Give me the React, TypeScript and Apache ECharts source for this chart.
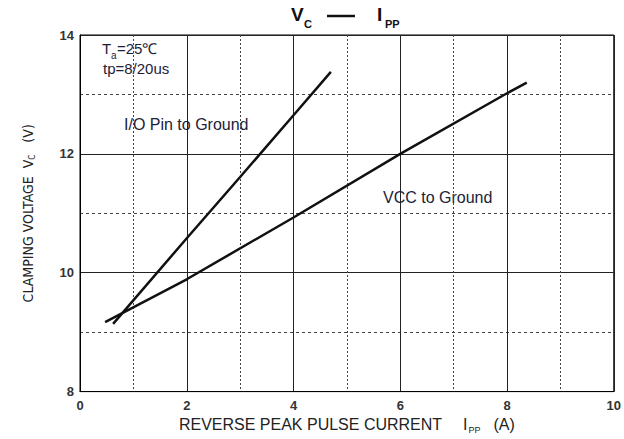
import React, { useEffect, useRef } from "react";
import * as echarts from "echarts";

// Reverse peak pulse current (A) vs clamping voltage (V)
const ioCurrent = [0.62, 2, 3, 4, 4.7];
const ioVoltage = [9.14, 10.58, 11.61, 12.65, 13.38];

const vccCurrent = [0.47, 2, 4, 6, 8, 8.37];
const vccVoltage = [9.17, 9.89, 10.93, 12.0, 13.02, 13.2];

const xTicks = { min: 0, max: 10, step: 2 };
const yTicks = { min: 8, max: 14, step: 2 };

const ink = "#111";
const noteColor = "#1b2238";
const narrow = "'Liberation Sans Narrow', 'Arial Narrow', 'DejaVu Sans Condensed', sans-serif";
const sans = "'Liberation Sans', Arial, sans-serif";

export default function App() {
  const ref = useRef<HTMLDivElement>(null);

  useEffect(() => {
    if (!ref.current) return;
    const chart = echarts.init(ref.current, null, { renderer: "svg" });

    const pair = (xs: number[], ys: number[]) => xs.map((x, i) => [x, ys[i]]);

    chart.setOption({
      animation: false,
      backgroundColor: "#fff",
      grid: {
        left: 80,
        top: 35,
        right: 10,
        bottom: 45,
        show: true,
        borderColor: "#000",
        borderWidth: 1,
      },
      xAxis: {
        type: "value",
        min: xTicks.min,
        max: xTicks.max,
        interval: xTicks.step,
        name: "{t|REVERSE PEAK PULSE CURRENT}{i|I}{sub|PP}{a|(A)}",
        nameLocation: "middle",
        nameGap: 22,
        nameTextStyle: {
          fontFamily: sans,
          fontSize: 16,
          color: "#222",
          rich: {
            t: { fontFamily: sans, fontSize: 16, color: "#222" },
            i: { fontFamily: sans, fontSize: 16, color: "#222", padding: [0, 0, 0, 21] },
            sub: { fontFamily: sans, fontSize: 9, color: "#222", padding: [10, 0, 0, 1] },
            a: { fontFamily: sans, fontSize: 16, color: "#222", padding: [0, 0, 0, 13] },
          },
        },
        axisLine: { show: true, lineStyle: { color: "#000", width: 1 } },
        axisTick: { show: false },
        axisLabel: {
          margin: 7,
          fontFamily: sans,
          fontSize: 13,
          fontWeight: "bold",
          color: "#333",
        },
        splitLine: { show: true, lineStyle: { color: "#222", width: 1 } },
        minorTick: { show: false, splitNumber: 2 },
        minorSplitLine: {
          show: true,
          lineStyle: { color: "#444", width: 1, type: [2, 2] },
        },
      },
      yAxis: {
        type: "value",
        min: yTicks.min,
        max: yTicks.max,
        interval: yTicks.step,
        name: "CLAMPING VOLTAGE  V{sub|C}   (V)",
        nameLocation: "middle",
        nameRotate: 90,
        nameGap: 44,
        nameTextStyle: {
          fontFamily: narrow,
          fontSize: 14,
          color: "#222",
          rich: {
            sub: { fontFamily: narrow, fontSize: 8, color: "#222", padding: [9, 0, 0, 0] },
          },
        },
        axisLine: { show: true, lineStyle: { color: "#000", width: 1 } },
        axisTick: { show: false },
        axisLabel: {
          margin: 6,
          fontFamily: sans,
          fontSize: 13,
          fontWeight: "bold",
          color: "#333",
        },
        splitLine: { show: true, lineStyle: { color: "#222", width: 1 } },
        minorTick: { show: false, splitNumber: 2 },
        minorSplitLine: {
          show: true,
          lineStyle: { color: "#444", width: 1, type: [3, 3] },
        },
      },
      series: [
        {
          name: "I/O Pin to Ground",
          type: "line",
          data: pair(ioCurrent, ioVoltage),
          symbol: "none",
          lineStyle: { color: ink, width: 2.5 },
          z: 5,
        },
        {
          name: "VCC to Ground",
          type: "line",
          data: pair(vccCurrent, vccVoltage),
          symbol: "none",
          lineStyle: { color: ink, width: 2.5 },
          z: 5,
        },
      ],
      graphic: [
        // Title: Vc —— Ipp
        {
          type: "text",
          left: 291,
          top: 5,
          style: { text: "V", font: `bold 19px ${sans}`, fill: "#111" },
        },
        {
          type: "text",
          left: 304,
          top: 18,
          style: { text: "C", font: `bold 11px ${sans}`, fill: "#111" },
        },
        {
          type: "line",
          shape: { x1: 327, y1: 16, x2: 355, y2: 16 },
          style: { stroke: "#111", lineWidth: 2.5 },
        },
        {
          type: "text",
          left: 377,
          top: 5,
          style: { text: "I", font: `bold 19px ${sans}`, fill: "#111" },
        },
        {
          type: "text",
          left: 385,
          top: 18,
          style: { text: "PP", font: `bold 11px ${sans}`, fill: "#111" },
        },
        // Test conditions
        {
          type: "text",
          left: 102,
          top: 41,
          style: { text: "T", font: `15px ${sans}`, fill: noteColor },
        },
        {
          type: "text",
          left: 111,
          top: 50,
          style: { text: "a", font: `10px ${sans}`, fill: noteColor },
        },
        {
          type: "text",
          left: 117,
          top: 41,
          style: { text: "=25℃", font: `15px ${sans}`, fill: noteColor },
        },
        {
          type: "text",
          left: 103,
          top: 61,
          style: { text: "tp=8/20us", font: `15px ${sans}`, fill: noteColor },
        },
        // Curve labels
        {
          type: "text",
          left: 124,
          top: 116,
          style: { text: "I/O Pin to Ground", font: `16px ${sans}`, fill: noteColor },
        },
        {
          type: "text",
          left: 383,
          top: 189,
          style: { text: "VCC to Ground", font: `16px ${sans}`, fill: noteColor },
        },
      ],
    });

    return () => chart.dispose();
  }, []);

  return (
    <div
      ref={ref}
      style={{ position: "fixed", left: 0, top: 0, width: 624, height: 439, background: "#fff" }}
    />
  );
}
